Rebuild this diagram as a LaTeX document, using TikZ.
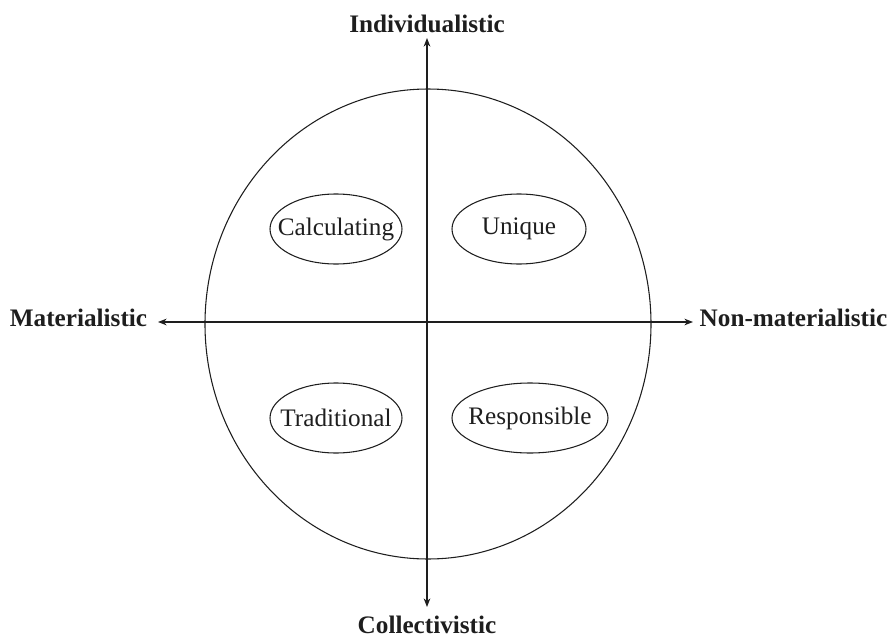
\documentclass[tikz,border=0pt]{standalone}
\usepackage{fontspec}
\setmainfont{Liberation Serif}
\usetikzlibrary{arrows.meta,positioning,shapes.geometric}
\definecolor{cInk}{HTML}{1E1E1E}
\tikzset{
  axislbl/.style={font=\fontsize{18.9}{22}\selectfont\bfseries, text=cInk, inner sep=0pt, anchor=base},
  kind/.style={inner sep=0pt, text=cInk, font=\fontsize{18.9}{22}\selectfont},
  ring/.style={draw=cInk, line width=0.8pt},
  axis/.style={-{Stealth[length=6.5pt, width=5pt]}, line width=0.8pt, draw=cInk},
}
\begin{document}
\begin{tikzpicture}[x=0.75pt, y=-0.75pt]
\useasboundingbox (0,0) rectangle (890,639);
% outer circle
\draw[ring] (428,324) ellipse [x radius=223, y radius=235];
% axes
\coordinate (o) at (427,322);
\coordinate (tipN) at (427,38);
\coordinate (tipS) at (427,607);
\coordinate (tipW) at (158,322);
\coordinate (tipE) at (693,322);
\draw[axis] (o) -- (tipN);
\draw[axis] (o) -- (tipS);
\draw[axis] (o) -- (tipW);
\draw[axis] (o) -- (tipE);
\node[axislbl] (indiv) at (427,32) {Individualistic};
\node[axislbl] (coll) at (427,633) {Collectivistic};
\node[axislbl] (mat) at (78.5,326) {Materialistic};
\node[axislbl] (nonmat) at (793.5,326) {Non-materialistic};
% the four types
\node[kind] (calc) at (336,229) {Calculating};
\node[kind] (uniq) at (519,229) {Unique};
\node[kind] (trad) at (336,418) {Traditional};
\node[kind] (resp) at (530,418) {Responsible};
\draw[ring] (calc.center) ellipse [x radius=66, y radius=35];
\draw[ring] (uniq.center) ellipse [x radius=67, y radius=35];
\draw[ring] (trad.center) ellipse [x radius=66, y radius=35];
\draw[ring] (resp.center) ellipse [x radius=78, y radius=35];
\end{tikzpicture}
\end{document}
